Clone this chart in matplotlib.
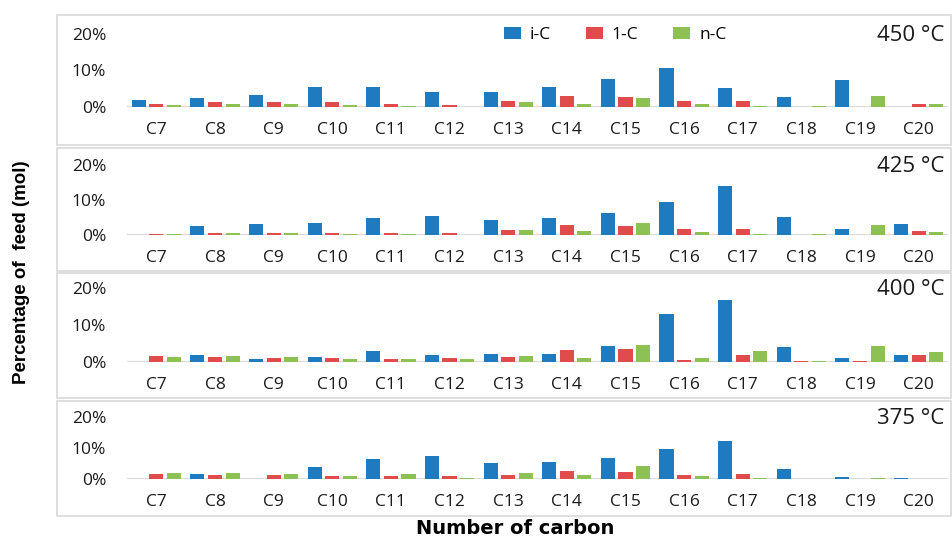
import matplotlib
matplotlib.use("Agg")
import matplotlib.pyplot as plt
import numpy as np
from matplotlib.patches import Rectangle

categories = ["C7", "C8", "C9", "C10", "C11", "C12", "C13", "C14", "C15", "C16", "C17", "C18", "C19", "C20"]
temperatures = ["450 °C", "425 °C", "400 °C", "375 °C"]
series_names = ["i-C", "1-C", "n-C"]

# values in % of feed (mol)
iC_450 = [1.8, 2.6, 3.4, 5.6, 5.4, 4.1, 4.1, 5.4, 7.6, 10.8, 5.1, 2.7, 7.4, 0.0]
oneC_450 = [0.9, 1.3, 1.3, 1.3, 0.8, 0.6, 1.6, 2.9, 2.75, 1.7, 1.7, 0.0, 0.0, 0.8]
nC_450 = [0.55, 0.9, 0.9, 0.6, 0.3, 0.0, 1.3, 0.9, 2.6, 0.8, 0.3, 0.3, 2.9, 0.8]

iC_425 = [0.0, 2.6, 3.0, 3.5, 4.9, 5.3, 4.3, 4.9, 6.2, 9.4, 14.0, 5.0, 1.8, 3.2]
oneC_425 = [0.4, 0.5, 0.5, 0.5, 0.7, 0.7, 1.4, 2.8, 2.6, 1.6, 1.8, 0.0, 0.0, 1.0]
nC_425 = [0.4, 0.5, 0.5, 0.4, 0.4, 0.0, 1.3, 1.0, 3.4, 0.9, 0.3, 0.3, 2.9, 0.9]

iC_400 = [0.0, 1.8, 0.7, 1.35, 3.0, 2.0, 2.25, 2.1, 4.2, 13.1, 16.8, 4.1, 1.0, 1.8]
oneC_400 = [1.5, 1.35, 1.2, 1.1, 0.8, 1.2, 1.45, 3.3, 3.4, 0.5, 2.0, 0.35, 0.35, 2.0]
nC_400 = [1.35, 1.6, 1.35, 0.8, 0.8, 0.8, 1.6, 1.2, 4.7, 1.2, 3.0, 0.35, 4.4, 2.7]

iC_375 = [0.0, 1.6, 0.0, 3.8, 6.5, 7.4, 5.3, 5.5, 6.9, 9.6, 12.4, 3.2, 0.65, 0.3]
oneC_375 = [1.6, 1.4, 1.2, 0.9, 1.1, 0.9, 1.4, 2.7, 2.4, 1.2, 1.6, 0.0, 0.0, 0.0]
nC_375 = [1.8, 1.9, 1.6, 1.1, 1.6, 0.3, 1.8, 1.4, 4.3, 1.0, 0.3, 0.0, 0.4, 0.0]

panels = [
    (iC_450, oneC_450, nC_450),
    (iC_425, oneC_425, nC_425),
    (iC_400, oneC_400, nC_400),
    (iC_375, oneC_375, nC_375),
]
yticks = [0, 10, 20]
ytick_labels = ["0%", "10%", "20%"]

colors = ["#1f7bc0", "#e04b4b", "#8dc153"]

W, H = 953, 540
fig = plt.figure(figsize=(W / 100, H / 100), dpi=100)
fig.patch.set_facecolor("white")

# pixel layout: (y of 0%, y of 20%) and panel boxes (top, bottom)
axes_px = [(107, 34), (235, 165), (362, 288), (479, 417)]
boxes_px = [(15, 145), (148, 271), (273, 398), (401, 516)]
x_left, x_right = 127, 948
box_left, box_right = 57, 951

for (top, bot) in boxes_px:
    fig.add_artist(Rectangle((box_left / W, 1 - bot / H), (box_right - box_left) / W, (bot - top) / H,
                             transform=fig.transFigure, fill=False, edgecolor="#d9d9d9", lw=1.2))

tick_font = ["Open Sans", "DejaVu Sans"]
x = np.arange(len(categories))
offs = [-0.30, 0.0, 0.30]
bw = 0.24
handles = None
for k, ((y0, y20), vals) in enumerate(zip(axes_px, panels)):
    ax = fig.add_axes([x_left / W, 1 - y0 / H, (x_right - x_left) / W, (y0 - y20) / H])
    hs = []
    for s in range(3):
        h = ax.bar(x + offs[s], vals[s], width=bw, color=colors[s], linewidth=0, label=series_names[s])
        hs.append(h)
    if handles is None:
        handles = hs
    ax.set_xlim(-0.5, len(categories) - 0.5)
    ax.set_ylim(0, 20)
    ax.axhline(0, color="#d9d9d9", lw=1.5, zorder=0)
    for sp in ax.spines.values():
        sp.set_visible(False)
    ax.set_yticks(yticks)
    ax.set_yticklabels(ytick_labels, fontfamily=tick_font, fontsize=12.5, color="#1a1a1a")
    ax.set_xticks(x)
    ax.set_xticklabels(categories, fontfamily=tick_font, fontsize=12.5, color="#1a1a1a")
    ax.tick_params(axis="y", length=0, pad=15)
    ax.tick_params(axis="x", length=0, pad=11)
    ax.patch.set_alpha(0)
    ax.text(0.996, 0.98, temperatures[k], transform=ax.transAxes, ha="right", va="center",
            fontsize=16, fontfamily=tick_font, color="#1a1a1a")

fig.legend(handles, series_names, loc="center", bbox_to_anchor=(615 / W, 1 - 35 / H), ncol=3,
           frameon=False, handlelength=1.0, handleheight=0.7, columnspacing=2.0, handletextpad=0.5,
           prop={"family": tick_font, "size": 12.5})

fig.text(515 / W, 1 - 528 / H, "Number of carbon", ha="center", va="center",
         fontsize=14, fontweight="bold", fontfamily=["DejaVu Sans"])
fig.text(22 / W, 1 - 272 / H, "Percentage of  feed (mol)", ha="center", va="center", rotation=90,
         fontsize=13.5, fontweight="bold", fontfamily=["Liberation Sans Narrow", "Liberation Sans", "DejaVu Sans"])

fig.savefig("out.png", dpi=100, facecolor="white")
